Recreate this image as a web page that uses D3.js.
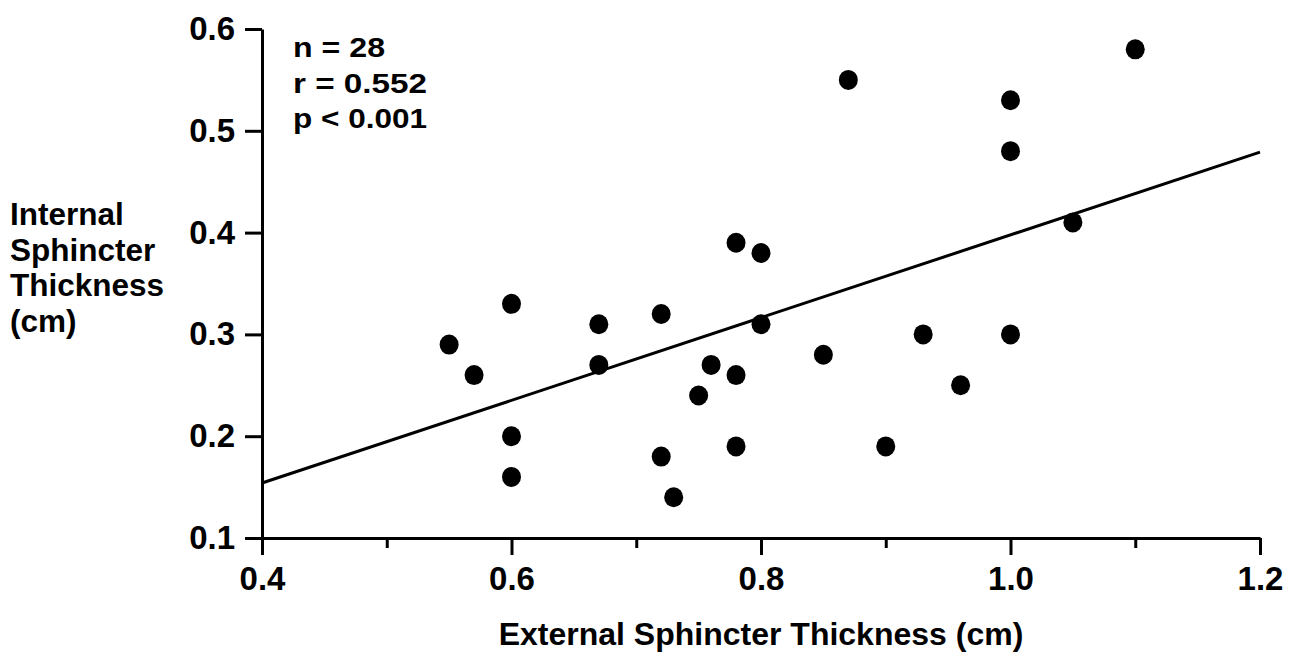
<!DOCTYPE html>
<html>
<head>
<meta charset="utf-8">
<script src="https://cdn.jsdelivr.net/npm/d3@7"></script>
<style>
  html, body { margin: 0; padding: 0; background: #fff; }
  svg { display: block; }
  text { font-family: "Liberation Sans", Arial, Helvetica, sans-serif; fill: #000; }
</style>
</head>
<body>
<svg id="chart" width="1305" height="656"></svg>
<script>
// ---- data ----
const externalThickness = [0.55, 0.57, 0.60, 0.60, 0.60, 0.67, 0.67, 0.72, 0.72, 0.73, 0.75, 0.76, 0.78, 0.78, 0.78, 0.80, 0.80, 0.85, 0.87, 0.90, 0.93, 0.96, 1.00, 1.00, 1.00, 1.05, 1.10];
const internalThickness = [0.29, 0.26, 0.33, 0.20, 0.16, 0.31, 0.27, 0.32, 0.18, 0.14, 0.24, 0.27, 0.39, 0.26, 0.19, 0.38, 0.31, 0.28, 0.55, 0.19, 0.30, 0.25, 0.53, 0.48, 0.30, 0.41, 0.58];
const regressionX = [0.4, 1.2];
const regressionY = [0.154, 0.479];
const xMajorTicks = [0.4, 0.6, 0.8, 1.0, 1.2];
const xMinorTicks = [0.5, 0.7, 0.9, 1.1];
const yTicks = [0.1, 0.2, 0.3, 0.4, 0.5, 0.6];
const statsLines = ["n = 28", "r = 0.552", "p < 0.001"];
const yTitleLines = ["Internal", "Sphincter", "Thickness", "(cm)"];
const xTitle = "External Sphincter Thickness  (cm)";

// ---- layout / style ----
const statsWidths = [92, 134, 134];

const svg = d3.select("#chart");
const x = d3.scaleLinear().domain([0.4, 1.2]).range([262, 1260]);
const y = d3.scaleLinear().domain([0.1, 0.6]).range([538, 29]);

// x axis major
const gx = svg.append("g").attr("transform", `translate(0,${y(0.1)})`)
  .call(d3.axisBottom(x).tickValues(xMajorTicks).tickSize(17).tickSizeOuter(0).tickPadding(12)
        .tickFormat(d3.format(".1f")));
gx.select(".domain").attr("stroke-width", 3).attr("stroke", "#000");
gx.selectAll(".tick line").attr("stroke-width", 3).attr("stroke", "#000");
gx.selectAll(".tick text").attr("font-size", 33).attr("font-weight", "bold");

// x axis minor
const gxm = svg.append("g").attr("transform", `translate(0,${y(0.1)})`)
  .call(d3.axisBottom(x).tickValues(xMinorTicks).tickSize(10).tickSizeOuter(0).tickFormat(""));
gxm.select(".domain").remove();
gxm.selectAll(".tick line").attr("stroke-width", 3).attr("stroke", "#000");

// y axis
const gy = svg.append("g").attr("transform", `translate(${x(0.4)},0)`)
  .call(d3.axisLeft(y).tickValues(yTicks).tickSize(17).tickSizeOuter(0).tickPadding(10)
        .tickFormat(d3.format(".1f")));
gy.select(".domain").attr("stroke-width", 3).attr("stroke", "#000");
gy.selectAll(".tick line").attr("stroke-width", 3).attr("stroke", "#000");
gy.selectAll(".tick text").attr("font-size", 33).attr("font-weight", "bold");

// regression line
svg.append("line")
  .attr("x1", x(regressionX[0])).attr("y1", y(regressionY[0]))
  .attr("x2", x(regressionX[1])).attr("y2", y(regressionY[1]))
  .attr("stroke", "#000").attr("stroke-width", 3);

// points
svg.append("g").selectAll("ellipse")
  .data(externalThickness.map((v, i) => [v, internalThickness[i]]))
  .join("ellipse")
  .attr("cx", d => x(d[0])).attr("cy", d => y(d[1]))
  .attr("rx", 9.5).attr("ry", 10)
  .attr("fill", "#000");

// stats text
svg.append("g").selectAll("text")
  .data(statsLines).join("text")
  .attr("x", 293).attr("y", (d, i) => 57 + i * 35.5)
  .attr("font-size", 27).attr("font-weight", "bold")
  .attr("textLength", (d, i) => statsWidths[i])
  .attr("lengthAdjust", "spacingAndGlyphs")
  .text(d => d);

// y title
svg.append("g").selectAll("text")
  .data(yTitleLines).join("text")
  .attr("x", 10).attr("y", (d, i) => 225 + i * 35.5)
  .attr("font-size", 31.5).attr("font-weight", "bold")
  .text(d => d);

// x title
svg.append("text")
  .attr("x", (x(0.4) + x(1.2)) / 2).attr("y", 645)
  .attr("text-anchor", "middle")
  .attr("font-size", 32).attr("font-weight", "bold")
  .text(xTitle);
</script>
</body>
</html>
